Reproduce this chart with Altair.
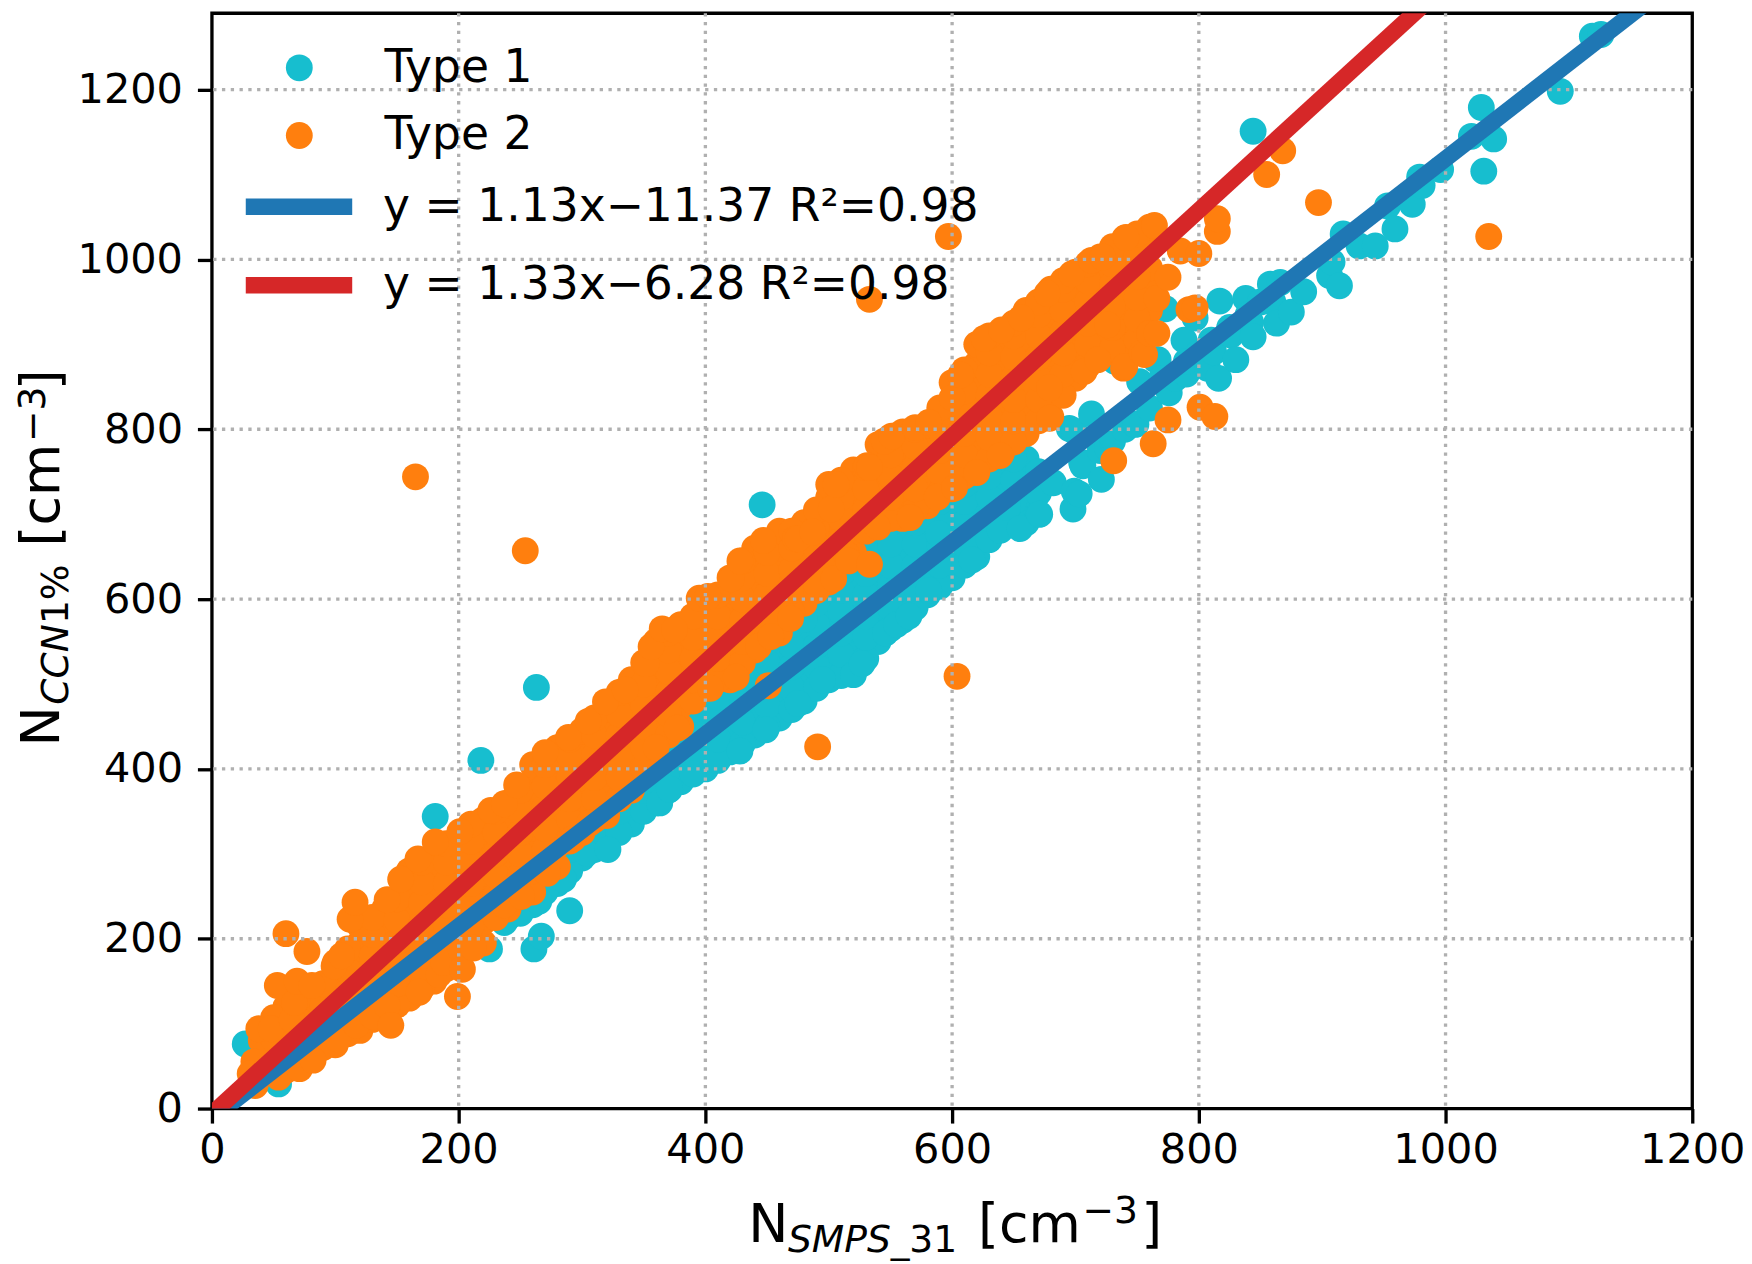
import altair as alt
import pandas as pd

LEFT, TOP = 213, 10  # page position of the plot origin
W, H = 1488, 1101
FONT = "DejaVu Sans"

x_ticks = [0, 200, 400, 600, 800, 1000, 1200]
y_ticks = [0, 200, 400, 600, 800, 1000, 1200]
x_grid = [200, 400, 600, 800, 1000]
y_grid = [200, 400, 600, 800, 1000, 1200]

type_names = ["Type 1", "Type 2"]
type_colors = ["#17becf", "#ff7f0e"]
fit_names = ["y = 1.13x\u221211.37 R\u00b2=0.98", "y = 1.33x\u22126.28 R\u00b2=0.98"]
fit_colors = ["#1f77b4", "#d62728"]
fit_x = [0, 1200]
fit_blue_y = [-11.37, 1344.63]
fit_red_y = [-6.28, 1589.72]

# ---- Type 1 (teal) values ----
type1_columns = {
    240: [225], 260: [240, 265], 280: [265, 290, 315], 300: [295, 320, 345],
    320: [310, 335, 360], 340: [335, 360, 385], 360: [360, 385, 410],
    380: [385, 410, 435], 400: [400, 425, 450, 475], 420: [420, 445, 470, 495],
    440: [440, 465, 490, 515], 460: [460, 485, 510, 535, 560],
    480: [480, 505, 530, 555, 580], 500: [505, 530, 555, 580, 605],
    520: [515, 540, 565, 590, 615, 640], 540: [550, 575, 600, 625, 650, 675],
    560: [575, 600, 625, 650, 675, 700], 580: [605, 630, 655, 680, 705],
    600: [625, 650, 675, 700, 725], 620: [650, 675, 700, 725, 745],
    640: [685, 710, 735, 760], 660: [690, 715, 740, 765], 670: [700, 725, 750],
}
type1_between = {
    270: [255, 280, 305], 290: [280, 305, 330], 310: [305, 330, 355],
    330: [325, 350, 375], 350: [350, 375, 400], 370: [375, 400, 425],
    390: [395, 420, 445, 470], 410: [410, 435, 460, 485], 430: [430, 455, 480, 505],
    450: [450, 475, 500, 525, 550], 470: [470, 495, 520, 545, 570],
    490: [495, 520, 545, 570, 595], 510: [510, 535, 560, 585, 610, 630],
    530: [530, 555, 580, 605, 630, 655], 550: [565, 590, 615, 640, 665, 690],
    570: [590, 615, 640, 665, 690], 590: [615, 640, 665, 690, 715],
    610: [640, 665, 690, 715, 735], 630: [670, 695, 720, 745], 650: [690, 715, 740, 765],
}
type1_edge = [
    (237, 219), (250, 230), (265, 244), (285, 270), (304, 301), (321, 305),
    (363, 360), (371, 376), (390, 394), (428, 421), (449, 446), (475, 477),
    (495, 505), (520, 511), (527, 524), (546, 560), (555, 570), (565, 580),
    (581, 610), (589, 677), (616, 646), (639, 681), (645, 708), (655, 683),
    (671, 700), (682, 737), (695, 801), (698, 706), (699, 727), (699, 798),
    (703, 724), (705, 761), (706, 757), (713, 818), (720, 775), (721, 741),
    (726, 778), (730, 786), (730, 790), (731, 882), (732, 880), (740, 800),
    (748, 806), (749, 806), (752, 856), (760, 825), (765, 882), (767, 882),
    (770, 860), (773, 942), (776, 843), (781, 860), (788, 905), (790, 865),
    (790, 880), (797, 931), (800, 890), (807, 872), (810, 905), (812, 891),
    (816, 860), (817, 951), (825, 920), (826, 911), (830, 882), (838, 954),
    (840, 935), (842, 926), (844, 909), (850, 950), (858, 971), (860, 950),
    (863, 925), (866, 973), (875, 938), (885, 962), (906, 981), (908, 997),
    (914, 969), (917, 1030), (930, 1016), (943, 1016), (953, 1063), (959, 1036),
    (973, 1065), (979, 1097), (981, 1087), (996, 1106),
]
type1_outliers = [
    (27, 76), (54, 29), (155, 133), (181, 344), (218, 410), (225, 188),
    (261, 188), (263, 496), (267, 203), (290, 233), (446, 711), (461, 675),
    (480, 576), (844, 1151), (1021, 1145), (1029, 1179), (1031, 1104),
    (1039, 1142), (1093, 1198), (1119, 1263), (1126, 1265),
]

# ---- Type 2 (orange) values ----
type2_columns = {
    40: [50, 80], 60: [45, 70, 95, 120], 80: [60, 85, 110, 135],
    100: [75, 100, 125, 150, 172], 120: [92, 118, 145, 170, 195, 215],
    140: [110, 135, 160, 185, 210, 235], 160: [130, 155, 180, 205, 230, 255, 280],
    180: [150, 175, 200, 225, 250, 275, 300], 200: [170, 195, 220, 245, 270, 295, 320],
    220: [195, 220, 245, 270, 295, 320, 340], 240: [235, 260, 285, 310, 335, 360],
    260: [255, 280, 305, 330, 355, 380, 405], 280: [285, 310, 335, 360, 385, 410, 425],
    300: [325, 350, 375, 400, 425, 445], 320: [345, 370, 395, 420, 445, 470],
    340: [375, 400, 425, 450, 475, 505], 360: [405, 430, 455, 480, 505, 530, 550],
    380: [450, 475, 500, 525, 550, 570], 400: [495, 520, 545, 570, 595],
    420: [505, 530, 555, 580, 605, 625], 440: [540, 565, 590, 615, 640, 660],
    460: [560, 585, 610, 635, 660, 680], 480: [595, 620, 645, 670, 690],
    500: [620, 645, 670, 695, 720, 735], 520: [655, 680, 705, 730, 752],
    540: [685, 710, 735, 760, 782], 560: [695, 720, 745, 770, 797],
    580: [710, 735, 760, 785, 805], 600: [730, 755, 780, 805, 830, 855],
    620: [752, 777, 802, 827, 852, 877, 900], 640: [772, 797, 822, 847, 872, 897, 915],
    660: [795, 820, 845, 870, 895, 920, 940], 680: [815, 840, 865, 890, 915, 940, 965],
    700: [860, 885, 910, 935, 960, 985], 720: [885, 910, 935, 960, 985, 1003],
    740: [880, 905, 930, 955, 980, 1005, 1025], 760: [915, 940, 965, 990, 1015, 1038],
}
type2_between = {
    50: [57, 82, 107], 70: [55, 80, 105, 130], 90: [72, 97, 122, 147],
    110: [88, 113, 138, 163, 188], 130: [105, 130, 155, 180, 205, 225],
    150: [122, 147, 172, 197, 222, 247], 170: [142, 167, 192, 217, 242, 267, 290],
    190: [165, 190, 215, 240, 265, 290, 312], 210: [190, 215, 240, 265, 290, 315, 335],
    230: [225, 250, 275, 300, 325, 350], 250: [250, 275, 300, 325, 350, 375],
    270: [280, 305, 330, 355, 380, 405], 290: [315, 340, 365, 390, 415, 435],
    310: [340, 365, 390, 415, 440, 460], 330: [365, 390, 415, 440, 465, 490],
    350: [400, 425, 450, 475, 500, 525], 370: [440, 465, 490, 515, 540, 560],
    390: [480, 505, 530, 555, 580], 410: [505, 530, 555, 580, 605],
    430: [525, 550, 575, 600, 625, 645], 450: [555, 580, 605, 630, 655],
    470: [585, 610, 635, 660, 680], 490: [610, 635, 660, 685, 705],
    510: [645, 670, 695, 720, 740], 530: [680, 705, 730, 755],
    550: [695, 720, 745, 770, 790], 570: [705, 730, 755, 780, 800],
    590: [725, 750, 775, 800, 825], 610: [745, 770, 795, 820, 845, 870],
    630: [765, 790, 815, 840, 865, 890, 910], 650: [785, 810, 835, 860, 885, 910, 925],
    670: [810, 835, 860, 885, 910, 935, 950], 690: [840, 865, 890, 915, 940, 965, 975],
    710: [875, 900, 925, 950, 975, 995], 730: [895, 920, 945, 970, 995, 1015],
    750: [905, 930, 955, 980, 1005, 1030],
}
type2_upper = [
    (34, 55), (31, 41), (38, 94), (48, 94), (53, 145), (60, 206), (65, 105),
    (67, 125), (69, 150), (77, 185), (81, 145), (99, 168), (105, 180),
    (112, 223), (116, 243), (142, 246), (153, 270), (167, 294), (181, 314),
    (201, 326), (226, 351), (237, 359), (247, 381), (270, 419), (289, 437),
    (305, 456), (319, 479), (335, 493), (352, 524), (356, 544), (365, 565),
    (375, 564), (395, 601), (402, 603), (421, 624), (428, 645), (447, 669),
    (473, 671), (475, 671), (487, 679), (502, 706), (506, 735), (531, 757),
    (533, 755), (545, 786), (551, 792), (570, 802), (581, 808), (600, 837),
    (607, 864), (626, 907), (640, 917), (656, 931), (677, 960), (697, 983),
    (713, 999), (722, 1003), (741, 1026), (764, 1040),
]
type2_lower = [
    (35, 27), (54, 37), (71, 47), (82, 57), (102, 82), (117, 98), (130, 109),
    (142, 121), (145, 98), (168, 137), (184, 158), (188, 172), (202, 187),
    (203, 164), (212, 189), (237, 240), (251, 250), (272, 277), (293, 318),
    (306, 336), (360, 425), (377, 448), (404, 495), (425, 508), (443, 544),
    (451, 498), (453, 556), (469, 577), (490, 618), (504, 624), (514, 653),
    (516, 645), (539, 686), (566, 696), (588, 720), (602, 731), (620, 749),
    (639, 769), (679, 813), (679, 849), (707, 868), (718, 882), (726, 923),
    (739, 872), (740, 874), (754, 890), (756, 888), (760, 913), (766, 913),
    (766, 954), (775, 979), (785, 1010), (800, 1007),
]
type2_outliers = [
    (165, 744), (199, 132), (254, 657), (491, 426), (533, 641), (533, 953),
    (597, 1027), (604, 509), (731, 763), (763, 783), (775, 811), (792, 941),
    (797, 943), (801, 826), (813, 815), (815, 1033), (815, 1048), (855, 1100),
    (868, 1128), (897, 1067), (1035, 1027),
]


def expand(columns):
    return [(x, y) for x, ys in columns.items() for y in ys]


rows = []
for name, pts in [
    (type_names[0], expand(type1_columns) + expand(type1_between) + type1_edge + type1_outliers),
    (type_names[1], expand(type2_columns) + expand(type2_between) + type2_upper + type2_lower + type2_outliers),
]:
    rows += [{"x": a, "y": b, "type": name} for a, b in pts]
points = pd.DataFrame(rows)

fits = pd.DataFrame(
    [{"x": a, "y": b, "fit": fit_names[0]} for a, b in zip(fit_x, fit_blue_y)]
    + [{"x": a, "y": b, "fit": fit_names[1]} for a, b in zip(fit_x, fit_red_y)]
)

x_scale = alt.Scale(domain=[0, 1200], nice=False, zero=False)
y_scale = alt.Scale(domain=[0, 1290], nice=False, zero=False)
axis_style = dict(grid=False, domain=False, tickSize=14.6, tickWidth=3.33, tickColor="black",
                  labelFontSize=41.67, labelFont=FONT, labelColor="black",
                  labelFlush=False, labelOverlap=False, format="d", title=None)
x_axis = alt.Axis(values=x_ticks, labelPadding=7, **axis_style)
y_axis = alt.Axis(values=y_ticks, labelPadding=15, **axis_style)

scatter = alt.Chart(points).mark_circle(opacity=1, size=729, stroke=None).encode(
    x=alt.X("x:Q", scale=x_scale, axis=x_axis),
    y=alt.Y("y:Q", scale=y_scale, axis=y_axis),
    fill=alt.Fill(
        "type:N", scale=alt.Scale(domain=type_names, range=type_colors),
        legend=alt.Legend(
            title=None, orient="none", legendX=64.9, legendY=32, padding=0, rowPadding=21,
            symbolType="circle", symbolSize=729, symbolStrokeWidth=0, labelOffset=62.6,
            labelFontSize=45.83, labelFont=FONT, labelColor="black", labelLimit=900,
        ),
    ),
)

grid_style = dict(color="#b0b0b0", strokeWidth=3.33, strokeDash=[3.33, 5.5])
grid_x = alt.Chart(pd.DataFrame({"v": x_grid})).mark_rule(**grid_style).encode(
    x=alt.X("v:Q", scale=x_scale, axis=x_axis)
)
grid_y = alt.Chart(pd.DataFrame({"v": y_grid})).mark_rule(**grid_style).encode(
    y=alt.Y("v:Q", scale=y_scale, axis=y_axis)
)

lines = alt.Chart(fits).mark_line(strokeWidth=16.67, clip=True, strokeCap="butt").encode(
    x=alt.X("x:Q", scale=x_scale, axis=x_axis),
    y=alt.Y("y:Q", scale=y_scale, axis=y_axis),
    stroke=alt.Stroke(
        "fit:N", scale=alt.Scale(domain=fit_names, range=fit_colors),
        legend=alt.Legend(
            title=None, orient="none", legendX=61, legendY=168, padding=0, rowPadding=12,
            symbolType="M-3,0L3,0", symbolSize=1272, symbolStrokeWidth=16.67, labelOffset=58,
            labelFontSize=45.83, labelFont=FONT, labelColor="black", labelLimit=900,
        ),
    ),
)

# Axis titles: mixed sizes and slants, each run is a real text mark.
# (text, page x, page y, size, style, angle)
title_runs = [
    ("N", 752, 1245, 54, "normal", 0),
    ("SMPS_", 792, 1255, 37.8, "italic", 0),
    ("31", 914, 1255, 37.8, "normal", 0),
    ("[cm", 983, 1245, 54, "normal", 0),
    ("\u22123", 1088, 1226, 37.8, "normal", 0),
    ("]", 1147, 1245, 54, "normal", 0),
    ("N", 59, 747, 54, "normal", 270),
    ("CCN", 68, 705, 37.8, "italic", 270),
    ("1%", 68, 624, 37.8, "normal", 270),
    ("[cm", 59, 546, 54, "normal", 270),
    ("\u22123", 45, 441, 37.8, "normal", 270),
    ("]", 59, 389, 54, "normal", 270),
]
title_layers = [
    alt.Chart(pd.DataFrame({"t": [t]})).mark_text(
        text=t, align="left", baseline="alphabetic", font=FONT, fontSize=size,
        fontStyle=style, angle=angle, color="black",
    ).encode(x=alt.value(px - LEFT), y=alt.value(py - TOP))
    for t, px, py, size, style, angle in title_runs
]

chart = alt.layer(scatter, grid_x, grid_y, lines, *title_layers).resolve_scale(
    fill="independent", stroke="independent"
).properties(
    width=W, height=H,
    padding={"left": 205, "top": 2, "right": 52, "bottom": 153},
    autosize=alt.AutoSizeParams(type="none"),
    background="white",
).configure_view(stroke="black", strokeWidth=3.33)

chart.save("out.html", embed_options={"renderer": "svg", "actions": False})
